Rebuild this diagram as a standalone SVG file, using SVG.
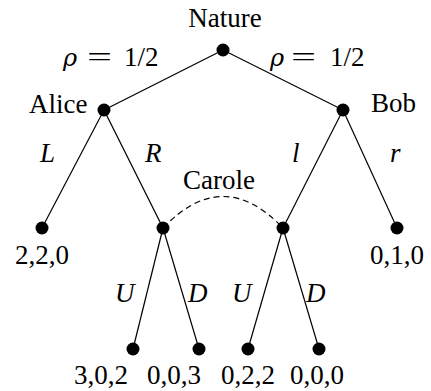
<svg xmlns="http://www.w3.org/2000/svg" width="431" height="391" viewBox="0 0 431 391">
<rect width="431" height="391" fill="#fff"/>
<g id="connectors" stroke="#000" stroke-width="1.2" fill="none">
<line x1="223" y1="50" x2="104" y2="110"/>
<line x1="223" y1="50" x2="343" y2="110"/>
<line x1="104" y1="110" x2="42" y2="228"/>
<line x1="104" y1="110" x2="163" y2="228"/>
<line x1="343" y1="110" x2="283" y2="228"/>
<line x1="343" y1="110" x2="397" y2="228"/>
<line x1="163" y1="228" x2="133" y2="349"/>
<line x1="163" y1="228" x2="199" y2="349"/>
<line x1="283" y1="228" x2="248" y2="349"/>
<line x1="283" y1="228" x2="319" y2="349"/>
<path d="M163,228 Q223,165 283,228" stroke-dasharray="6,4"/>
</g>
<g id="edge-labels">
<text x="63" y="66" font-family="Liberation Serif" font-size="27"><tspan x="63" font-family="DejaVu Serif" font-size="24" font-style="italic">ρ</tspan><tspan x="87" textLength="25" lengthAdjust="spacingAndGlyphs">=</tspan><tspan x="124">1/2</tspan></text>
<text x="270" y="66" font-family="Liberation Serif" font-size="27"><tspan x="270" font-family="DejaVu Serif" font-size="24" font-style="italic">ρ</tspan><tspan x="291" textLength="25" lengthAdjust="spacingAndGlyphs">=</tspan><tspan x="330">1/2</tspan></text>
<text x="40" y="162" font-family="Liberation Serif" font-size="27" font-style="italic">L</text>
<text x="145" y="162" font-family="Liberation Serif" font-size="27" font-style="italic">R</text>
<text x="292" y="162" font-family="Liberation Serif" font-size="27" font-style="italic">l</text>
<text x="390" y="162" font-family="Liberation Serif" font-size="27" font-style="italic">r</text>
<text x="183" y="189" font-family="Liberation Serif" font-size="27">Carole</text>
<text x="115" y="302" font-family="Liberation Serif" font-size="27" font-style="italic">U</text>
<text x="188" y="302" font-family="Liberation Serif" font-size="27" font-style="italic">D</text>
<text x="232" y="302" font-family="Liberation Serif" font-size="27" font-style="italic">U</text>
<text x="306" y="302" font-family="Liberation Serif" font-size="27" font-style="italic">D</text>
</g>
<g id="nature"><circle cx="223" cy="50" r="6.5" fill="#000"/><text x="225" y="27" text-anchor="middle" font-family="Liberation Serif" font-size="27">Nature</text></g>
<g id="alice"><circle cx="104" cy="110" r="6.5" fill="#000"/><text x="29" y="113" font-family="Liberation Serif" font-size="27">Alice</text></g>
<g id="bob"><circle cx="343" cy="110" r="6.5" fill="#000"/><text x="371" y="112" font-family="Liberation Serif" font-size="27">Bob</text></g>
<g id="leaf220"><circle cx="42" cy="228" r="6.5" fill="#000"/><text x="42" y="264" text-anchor="middle" font-family="Liberation Serif" font-size="27">2,2,0</text></g>
<g id="carole1"><circle cx="163" cy="228" r="6.5" fill="#000"/></g>
<g id="carole2"><circle cx="283" cy="228" r="6.5" fill="#000"/></g>
<g id="leaf010"><circle cx="397" cy="228" r="6.5" fill="#000"/><text x="397" y="264" text-anchor="middle" font-family="Liberation Serif" font-size="27">0,1,0</text></g>
<g id="leaf302"><circle cx="133" cy="349" r="6.5" fill="#000"/><text x="74" y="384" font-family="Liberation Serif" font-size="27">3,0,2</text></g>
<g id="leaf003"><circle cx="199" cy="349" r="6.5" fill="#000"/><text x="147" y="384" font-family="Liberation Serif" font-size="27">0,0,3</text></g>
<g id="leaf222"><circle cx="248" cy="349" r="6.5" fill="#000"/><text x="221" y="384" font-family="Liberation Serif" font-size="27">0,2,2</text></g>
<g id="leaf000"><circle cx="319" cy="349" r="6.5" fill="#000"/><text x="290" y="384" font-family="Liberation Serif" font-size="27">0,0,0</text></g>
</svg>
